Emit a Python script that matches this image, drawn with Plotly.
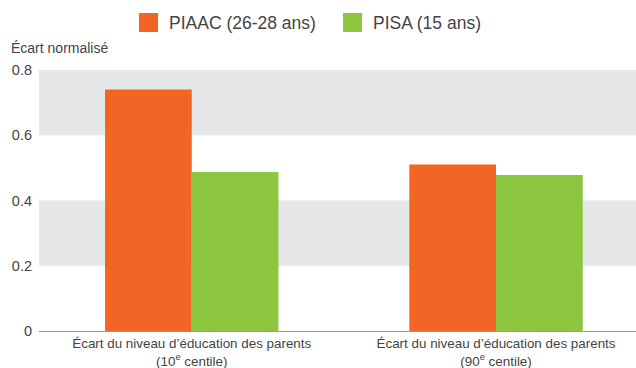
import plotly.graph_objects as go

categories = ["Écart du niveau d’éducation des parents<br>(10<sup>e</sup> centile)",
              "Écart du niveau d’éducation des parents<br>(90<sup>e</sup> centile)"]
piaac = [0.74, 0.51]
pisa = [0.487, 0.478]
series_names = ["PIAAC (26-28 ans)", "PISA (15 ans)"]
series_colors = ["#F26524", "#8DC63F"]
ytick_vals = [0, 0.2, 0.4, 0.6, 0.8]
ytick_text = ["0", "0.2", "0.4", "0.6", "0.8"]
bands = [(0.2, 0.4), (0.6, 0.8)]

FONT = "Liberation Sans, Arial, sans-serif"
TXT = "#444444"

fig = go.Figure()
fig.add_bar(x=categories, y=piaac, name=series_names[0], marker_color=series_colors[0], marker_line_width=0)
fig.add_bar(x=categories, y=pisa, name=series_names[1], marker_color=series_colors[1], marker_line_width=0)

for y0, y1 in bands:
    fig.add_shape(type="rect", xref="paper", yref="y", x0=0, x1=1, y0=y0, y1=y1,
                  fillcolor="#E6E7E8", line_width=0, layer="below")

# manual legend (plot area: x 39..636 px, y 70..331 px)
W, H = 597.0, 261.0
def px(x):
    return (x - 39) / W
def py(y):
    return (331 - y) / H

annotations = []
legend_items = [(139, series_names[0], series_colors[0]), (343, series_names[1], series_colors[1])]
for x0, name, col in legend_items:
    fig.add_shape(type="rect", xref="paper", yref="paper", x0=px(x0), x1=px(x0 + 19),
                  y0=py(32), y1=py(13), fillcolor=col, line_width=0)
    annotations.append(dict(text=name, xref="paper", yref="paper", x=px(x0 + 28), y=py(22.5),
                            xanchor="left", yanchor="middle", showarrow=False,
                            font=dict(size=17.5, color=TXT)))

annotations.append(dict(text="Écart normalisé", xref="paper", yref="paper", x=px(9), y=py(48),
                        xanchor="left", yanchor="middle", showarrow=False,
                        font=dict(size=14, color=TXT)))

fig.update_layout(
    width=636, height=368,
    margin=dict(l=39, r=0, t=70, b=37),
    paper_bgcolor="white", plot_bgcolor="white",
    barmode="group", bargap=0.43, bargroupgap=0,
    font=dict(family=FONT, color=TXT, size=12),
    showlegend=False,
    xaxis=dict(range=[-0.502, 1.46], showgrid=False, showline=True, linecolor="#999999", linewidth=1,
               ticks="", tickfont=dict(size=13.4, color=TXT), fixedrange=True),
    yaxis=dict(range=[0, 0.8], tickvals=ytick_vals, ticktext=ytick_text, showgrid=False,
               zeroline=False, showline=False, tickfont=dict(size=14.5, color=TXT), ticks="",
               ticklabelstandoff=6),
    annotations=annotations,
)
fig.write_html("out.html")
